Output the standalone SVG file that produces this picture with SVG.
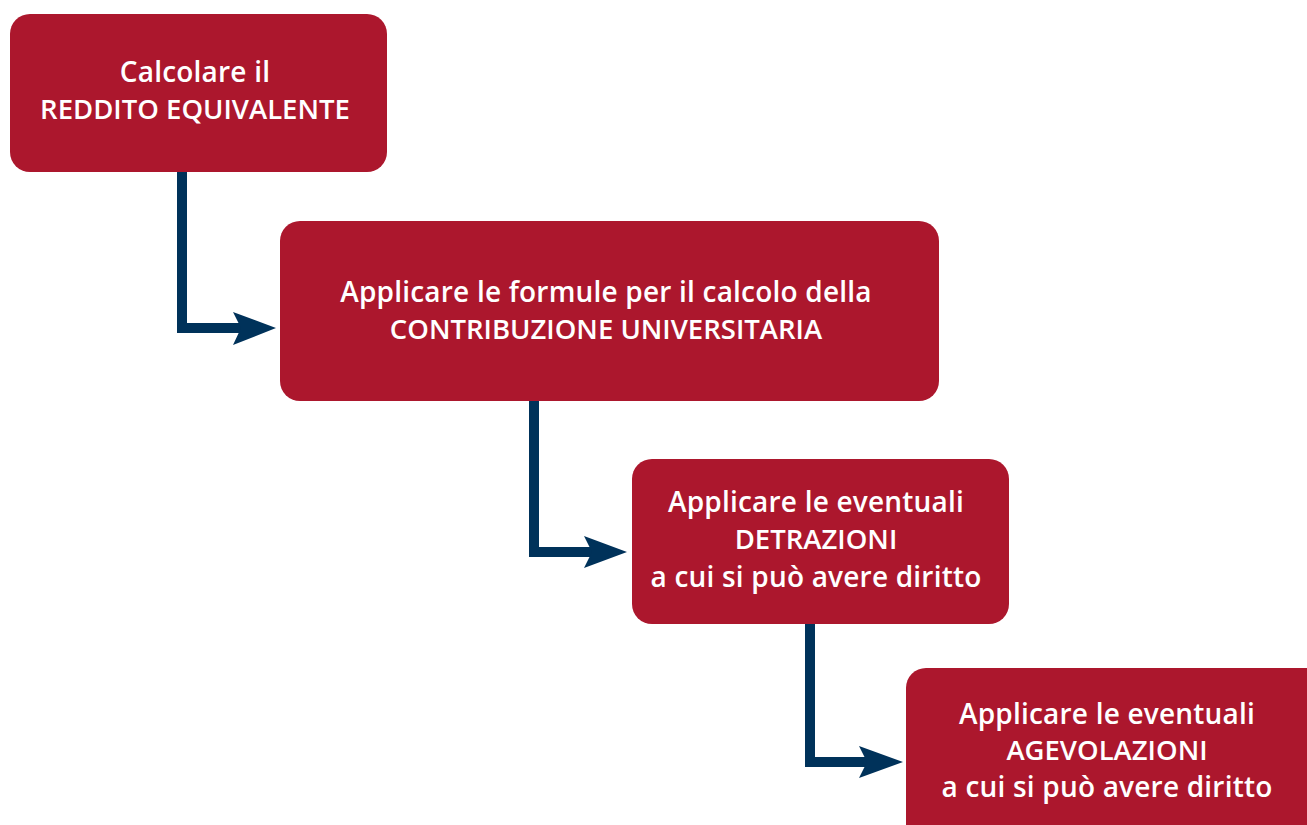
<svg xmlns="http://www.w3.org/2000/svg" width="1307" height="825" viewBox="0 0 1307 825">
<style>
.box{fill:#AC172D;}
.lbl{fill:#ffffff;font-family:"Open Sans","Noto Sans",sans-serif;font-weight:600;font-size:28px;text-anchor:middle;}
.lc{letter-spacing:0.2px;}
.uc{font-size:27.5px;}
.line{fill:none;stroke:#00325A;stroke-width:10;stroke-linejoin:miter;}
.head{fill:#00325A;}
</style>
<rect width="1307" height="825" fill="#ffffff"/>
<g id="connectors">
<path class="line" d="M182,172 V328 H242"/>
<polygon class="head" points="233,312 276,328 233,345 241,328"/>
<path class="line" d="M534,401 V552 H592"/>
<polygon class="head" points="584,536 627,552 584,568 592,552"/>
<path class="line" d="M810,624 V762 H868"/>
<polygon class="head" points="859,746 903,762 859,778 867,762"/>
</g>
<g id="node1">
<rect class="box" x="10" y="14" width="377" height="158" rx="20"/>
<text class="lbl lc" x="195" y="82">Calcolare il</text>
<text class="lbl uc" x="195" y="119">REDDITO EQUIVALENTE</text>
</g>
<g id="node2">
<rect class="box" x="280" y="221" width="659" height="180" rx="20"/>
<text class="lbl lc" x="606" y="302">Applicare le formule per il calcolo della</text>
<text class="lbl uc" x="606" y="339">CONTRIBUZIONE UNIVERSITARIA</text>
</g>
<g id="node3">
<rect class="box" x="632" y="459" width="377" height="165" rx="20"/>
<text class="lbl lc" x="816" y="512">Applicare le eventuali</text>
<text class="lbl uc" x="816" y="549">DETRAZIONI</text>
<text class="lbl lc" x="816" y="587">a cui si può avere diritto</text>
</g>
<g id="node4">
<rect class="box" x="906" y="668" width="420" height="180" rx="20"/>
<text class="lbl lc" x="1107" y="724">Applicare le eventuali</text>
<text class="lbl uc" x="1107" y="760">AGEVOLAZIONI</text>
<text class="lbl lc" x="1107" y="797">a cui si può avere diritto</text>
</g>
</svg>
